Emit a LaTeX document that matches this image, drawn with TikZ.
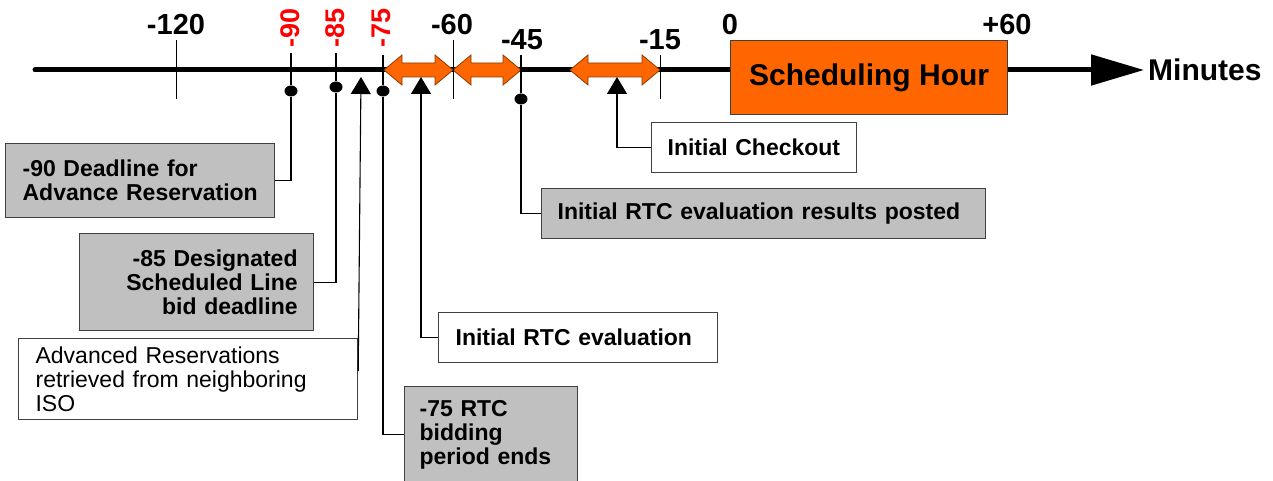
\documentclass[tikz,border=0pt]{standalone}
\usepackage{fontspec}
\setmainfont{Liberation Sans}
\usetikzlibrary{arrows.meta,shapes.geometric}
\definecolor{schorange}{HTML}{FF6600}
\definecolor{boxgray}{HTML}{C0C0C0}
\definecolor{edgegray}{HTML}{404040}
\definecolor{arrowedge}{HTML}{8A3A00}
\definecolor{labred}{HTML}{FF0000}
\newcommand\dblarr[2]{\filldraw[darrowstyle] (#1,70) -- (#1+18,55) -- (#1+18,63) -- (#2-18,63) -- (#2-18,55) -- (#2,70) -- (#2-18,85) -- (#2-18,77) -- (#1+18,77) -- (#1+18,85) -- cycle;}
\begin{document}
\begin{tikzpicture}[x=1pt,y=-1pt,
  darrowstyle/.style={fill=schorange,draw=arrowedge,line width=0.8pt,line join=miter},
  tickline/.style={draw=black,line width=1pt},
  conn/.style={draw=black,line width=1.1pt},
  uptip/.style={-{Triangle[width=20pt,length=17pt]}},
  dotmark/.style={ellipse,fill=black,minimum width=13pt,minimum height=11pt,inner sep=0pt},
  numlab/.style={font=\bfseries\fontsize{29}{29}\selectfont,inner sep=0pt},
  redlab/.style={font=\bfseries\fontsize{27}{27}\selectfont,text=labred,rotate=90,inner sep=0pt},
  box/.style={draw=edgegray,line width=1.2pt,inner ysep=0pt,anchor=north west,font=\bfseries\fontsize{23}{24}\selectfont},
  graybox/.style={box,fill=boxgray},
  whitebox/.style={box,fill=white}]
\useasboundingbox (0,0) rectangle (1273,481);
\fill[white] (0,0) rectangle (1273,481);
% axis
\coordinate (ax0) at (35,70);
\coordinate (ax1) at (1144,70);
\draw[line width=5pt,line cap=round,-{Triangle[length=53pt,width=30pt]}] (ax0) -- (ax1);
\node[anchor=west,font=\bfseries\fontsize{30}{30}\selectfont,inner sep=0pt] (minutes) at (1148,70) {Minutes};
% double arrows
\dblarr{384}{453}
\dblarr{453}{521}
\dblarr{570}{660}
% ticks
\draw[tickline] (176,40) -- (176,99);
\draw[tickline] (453,40) -- (453,99);
\draw[tickline] (660,55) -- (660,99);
% scheduling hour
\node[anchor=north west,fill=schorange,draw=edgegray,line width=1.2pt,minimum width=277pt,minimum height=74pt,inner sep=0pt,font=\bfseries\fontsize{30}{30}\selectfont] (sched) at (730,40) {Scheduling Hour};
% labels
\node[numlab] (l120) at (176,25) {-120};
\node[numlab] (l60) at (452,25) {-60};
\node[numlab] (l45) at (522,40) {-45};
\node[numlab] (l15) at (660,40) {-15};
\node[numlab] (l0) at (730,25) {0};
\node[numlab] (lp60) at (1007,25) {+60};
\node[redlab] (r90) at (290,28) {-90};
\node[redlab] (r85) at (335,28) {-85};
\node[redlab] (r75) at (381,28) {-75};
% tick tops and dots
\coordinate (t90) at (291,53);
\coordinate (t85) at (336,53);
\coordinate (t75) at (383,55);
\coordinate (t45) at (521,55);
\node[dotmark] (d90) at (291,91) {};
\node[dotmark] (d85) at (336,87) {};
\node[dotmark] (d75) at (383,91) {};
\node[dotmark] (d45) at (521,99) {};
% arrow tips
\coordinate (a361) at (361,77);
\coordinate (a421) at (421,77);
\coordinate (a617) at (617,77);
% boxes
\node[graybox,inner xsep=17pt,text width=235pt,minimum height=74pt,align=left] (b90) at (5,143) {\mbox{-90 Deadline for}\\\mbox{Advance Reservation}};
\node[graybox,inner xsep=16pt,text width=202pt,minimum height=97pt,align=right] (b85) at (79,233) {\mbox{-85 Designated}\\\mbox{Scheduled Line}\\\mbox{bid deadline}};
\node[whitebox,inner xsep=17pt,text width=305pt,minimum height=81pt,align=left,font=\mdseries\fontsize{23}{24}\selectfont] (badv) at (18,338) {\mbox{Advanced Reservations}\\\mbox{retrieved from neighboring}\\\mbox{ISO}};
\node[graybox,inner xsep=15pt,text width=143pt,minimum height=96pt,align=left] (b75) at (404,386) {\mbox{-75 RTC}\\\mbox{bidding}\\\mbox{period ends}};
\node[whitebox,inner xsep=17pt,text width=245pt,minimum height=50pt,align=left] (brtc) at (438,312) {\mbox{Initial RTC evaluation}};
\node[graybox,inner xsep=16pt,text width=412pt,minimum height=50pt,align=left] (bres) at (541,188) {\mbox{Initial RTC evaluation results posted}};
\node[whitebox,inner xsep=16pt,text width=173pt,minimum height=50pt,align=left] (bchk) at (651,122) {\mbox{Initial Checkout}};
% connectors
\draw[conn] (t90) -- (d90) |- (b90.east);
\draw[conn] (t85) -- (d85) |- (b85.east);
\draw[conn] (t75) -- (d75) |- (b75.west);
\draw[conn] (t45) -- (d45) |- (bres.west);
\draw[conn,uptip] ([yshift=8pt]badv.east) -- (a361);
\draw[conn,uptip] (brtc.west) -| (a421);
\draw[conn,uptip] (bchk.west) -| (a617);
\end{tikzpicture}
\end{document}
